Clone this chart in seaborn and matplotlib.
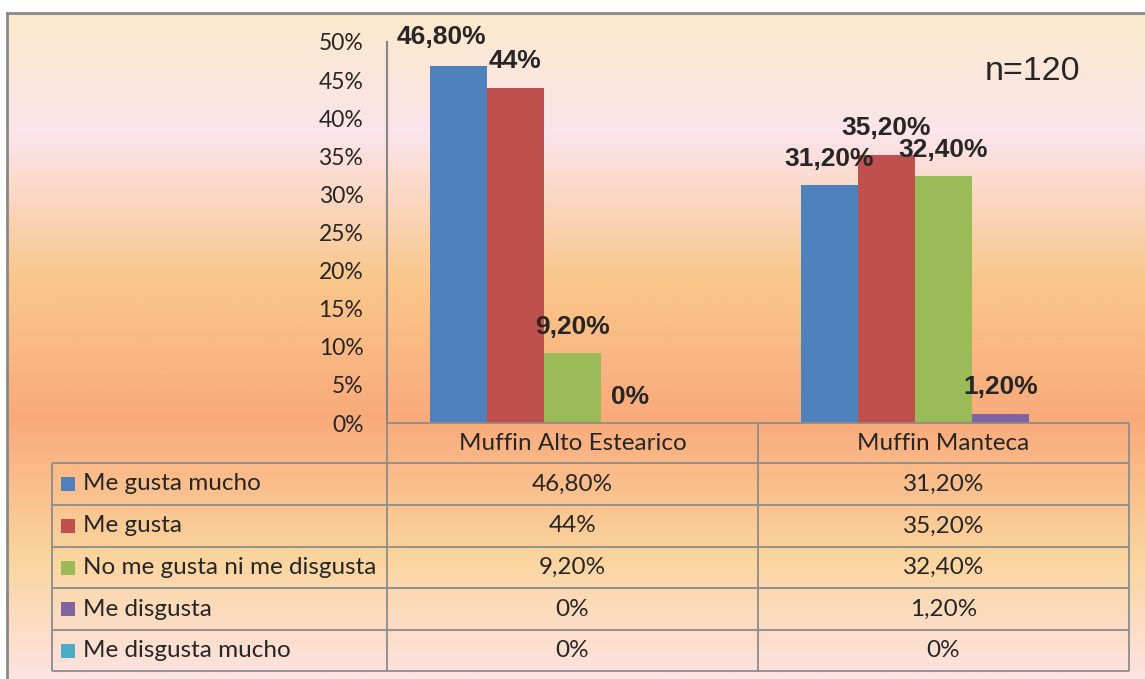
import numpy as np
import pandas as pd
import seaborn as sns
import matplotlib.pyplot as plt
from matplotlib.colors import LinearSegmentedColormap
from matplotlib.patches import Rectangle

# DATA
productos = ["Muffin Alto Estearico", "Muffin Manteca"]
niveles = ["Me gusta mucho", "Me gusta", "No me gusta ni me disgusta",
           "Me disgusta", "Me disgusta mucho"]
alto_estearico = [46.8, 44, 9.2, 0, 0]
manteca = [31.2, 35.2, 32.4, 1.2, 0]
colores = ["#4F81BD", "#C0504D", "#9BBB59", "#8064A2", "#4BACC6"]
yticks = [0, 5, 10, 15, 20, 25, 30, 35, 40, 45, 50]
nota = "n=120"


def fmt(v):
    if float(v).is_integer():
        return f"{int(v)}%"
    return f"{v:.2f}".replace(".", ",") + "%"


df = pd.DataFrame({
    "producto": np.repeat(productos, len(niveles)),
    "nivel": niveles * len(productos),
    "valor": alto_estearico + manteca,
})

sns.set_style("white")
plt.rcParams["font.family"] = ["Lato", "DejaVu Sans"]

W, H = 1145, 679
fig = plt.figure(figsize=(W / 100, H / 100), dpi=100)

# FONDO (degradado)
bg = fig.add_axes([7 / W, 0, 1 - 7 / W, 1 - 13 / H])
fondo = LinearSegmentedColormap.from_list("fondo", [
    (0.0, "#FBE9CB"), (0.18, "#FCE4EC"), (0.40, "#F9C78B"),
    (0.61, "#F9AA7B"), (0.82, "#FAD59E"), (1.0, "#FDE3E3")])
bg.imshow(np.linspace(0, 1, 512).reshape(-1, 1), aspect="auto", cmap=fondo,
          extent=[0, 1, 1, 0])
bg.set_xticks([])
bg.set_yticks([])
for s in ["right", "bottom"]:
    bg.spines[s].set_visible(False)
for s in ["top", "left"]:
    bg.spines[s].set_color("#898989")
    bg.spines[s].set_linewidth(2)

# BARRAS
ax = fig.add_axes([387 / W, 1 - 423 / H, (1129 - 387) / W, (423 - 42) / H])
ax.patch.set_alpha(0)
sns.barplot(data=df, x="producto", y="valor", hue="nivel", order=productos,
            hue_order=niveles, palette=colores, width=0.77, errorbar=None,
            saturation=1, linewidth=0, legend=False, ax=ax)
ax.set_xlim(-0.5, 1.5)
ax.set_ylim(0, 50)
ax.set_yticks(yticks)
ax.set_yticklabels([f"{t}%" for t in yticks], fontsize=16.5)
ax.tick_params(axis="y", length=0, pad=17)
ax.set_xticks([])
ax.set_xlabel("")
ax.set_ylabel("")
for s in ["top", "right", "bottom"]:
    ax.spines[s].set_visible(False)
ax.spines["left"].set_color("#868686")
ax.spines["left"].set_linewidth(1.5)

# ETIQUETAS (sin etiqueta para "Me disgusta mucho")
for i, cont in enumerate(ax.containers[:-1]):
    for j, bar in enumerate(cont):
        v = bar.get_height()
        off = (-12, 21) if (i == 0 and j == 0) else (0, 19)
        ax.annotate(fmt(v), (bar.get_x() + bar.get_width() / 2, v),
                    xytext=off, textcoords="offset points", ha="center",
                    va="center", fontsize=19, fontweight="bold",
                    family="Liberation Sans")

fig.text(985 / W, 1 - 72 / H, nota, fontsize=24.5, family="Liberation Sans",
         va="center", ha="left")

# TABLA
ov = fig.add_axes([0, 0, 1, 1])
ov.set_xlim(0, W)
ov.set_ylim(H, 0)
ov.axis("off")
lc, lw = "#8C8C8C", 1.3
filas = [423, 463, 505, 547, 588, 630, 671]
x_lab, x_c1, x_c2, x_fin = 52, 387, 758, 1129
ov.hlines(filas[0], x_c1, x_fin, color=lc, lw=lw)
ov.hlines(filas[1:], x_lab, x_fin, color=lc, lw=lw)
ov.vlines(x_lab, filas[1], filas[-1], color=lc, lw=lw)
ov.vlines([x_c1, x_c2, x_fin], filas[0], filas[-1], color=lc, lw=lw)

centros = [(x_c1 + x_c2) / 2, (x_c2 + x_fin) / 2]
yc = (filas[0] + filas[1]) / 2
for cx, p in zip(centros, productos):
    ov.text(cx, yc, p, ha="center", va="center", fontsize=17.5)

for k, (nivel, col) in enumerate(zip(niveles, colores)):
    yc = (filas[k + 1] + filas[k + 2]) / 2
    ov.add_patch(Rectangle((61, yc - 7), 14, 14, color=col, lw=0))
    ov.text(83, yc, nivel, ha="left", va="center", fontsize=17.5)
    for cx, serie in zip(centros, [alto_estearico, manteca]):
        ov.text(cx, yc, fmt(serie[k]), ha="center", va="center", fontsize=17.5)

fig.savefig("out.png", dpi=100)
